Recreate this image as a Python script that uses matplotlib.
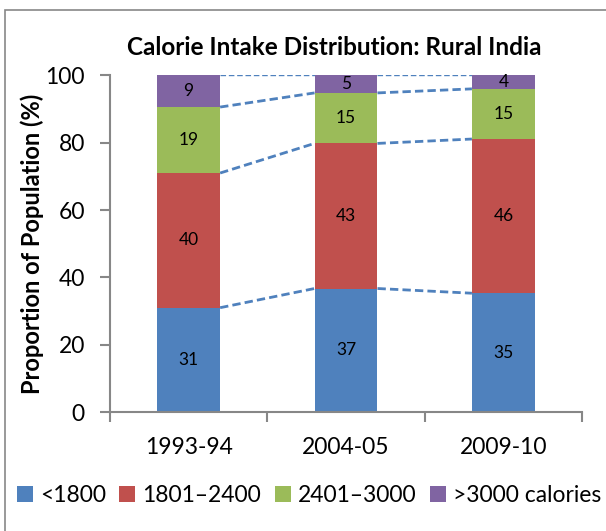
import matplotlib.pyplot as plt
from matplotlib.patches import Rectangle, Patch

plt.rcParams['font.family'] = ['Lato', 'DejaVu Sans']

periods = ["1993-94", "2004-05", "2009-10"]
series_names = ["<1800", "1801\u20132400", "2401\u20133000", ">3000 calories"]
colors = ["#4F81BD", "#C0504D", "#9BBB59", "#8064A2"]

below_1800 = [31.0, 36.7, 35.3]
mid_low = [40.0, 43.1, 45.8]
mid_high = [19.6, 15.0, 14.9]
above_3000 = [9.4, 5.2, 4.0]

labels = [
    ["31", "37", "35"],
    ["40", "43", "46"],
    ["19", "15", "15"],
    ["9", "5", "4"],
]

series = [below_1800, mid_low, mid_high, above_3000]

fig = plt.figure(figsize=(6.06, 5.31), dpi=100)
ax = fig.add_axes([0.1815, 0.224, 0.779, 0.634])

# chart border like the excel chart area
fig.patches.append(Rectangle((5 / 606, -0.1), 1.2, 1 - 10 / 531 + 0.1,
                             transform=fig.transFigure, fill=False,
                             edgecolor="#878787", linewidth=1.2))

x = list(range(len(periods)))
width = 0.4
bottoms = [0.0] * len(periods)
tops = []
for vals, lab, col in zip(series, labels, colors):
    ax.bar(x, vals, width=width, bottom=bottoms, color=col, edgecolor="none", zorder=2)
    for i in x:
        ax.text(i, bottoms[i] + vals[i] / 2, lab[i], ha="center", va="center",
                fontsize=12.5, color="black", zorder=3)
    bottoms = [b + v for b, v in zip(bottoms, vals)]
    tops.append(list(bottoms))

# series lines between bars
for k, level in enumerate(tops):
    top_line = k == len(tops) - 1
    for i in range(len(periods) - 1):
        ax.plot([i + width / 2, i + 1 - width / 2], [level[i], level[i + 1]],
                linestyle=(0, (4, 2)) if top_line else (0, (3, 1.5)),
                color="#4F81BD", linewidth=1.0 if top_line else 2.0, zorder=1)

ax.set_xlim(-0.5, 2.5)
ax.set_ylim(0, 100)
ax.set_yticks(range(0, 101, 20))
ax.set_xticks(x)
ax.set_xticklabels(periods)
ax.set_xticks([-0.5, 0.5, 1.5, 2.5], minor=True)
ax.tick_params(axis="x", which="major", length=0, labelsize=16.5, pad=18)
ax.tick_params(axis="x", which="minor", length=7, color="#878787", width=1.5)
ax.tick_params(axis="y", length=7, color="#878787", width=1.5, labelsize=16.5, pad=11)

for side in ["top", "right"]:
    ax.spines[side].set_visible(False)
for side in ["left", "bottom"]:
    ax.spines[side].set_color("#878787")
    ax.spines[side].set_linewidth(1.5)

ax.set_ylabel("Proportion of Population (%)", fontsize=17, fontweight="bold", labelpad=1)
fig.text(0.551, 0.91, "Calorie Intake Distribution: Rural India", ha="center", va="center",
         fontsize=17.5, fontweight="bold")

handles = [Patch(facecolor=c, edgecolor="none") for c in colors]
fig.legend(handles, series_names, loc="center", bbox_to_anchor=(0.51, 0.066), ncol=4,
           frameon=False, fontsize=16.5, handlelength=0.7, handleheight=0.7,
           handletextpad=0.3, columnspacing=0.6)

fig.savefig("out.png", dpi=100)
